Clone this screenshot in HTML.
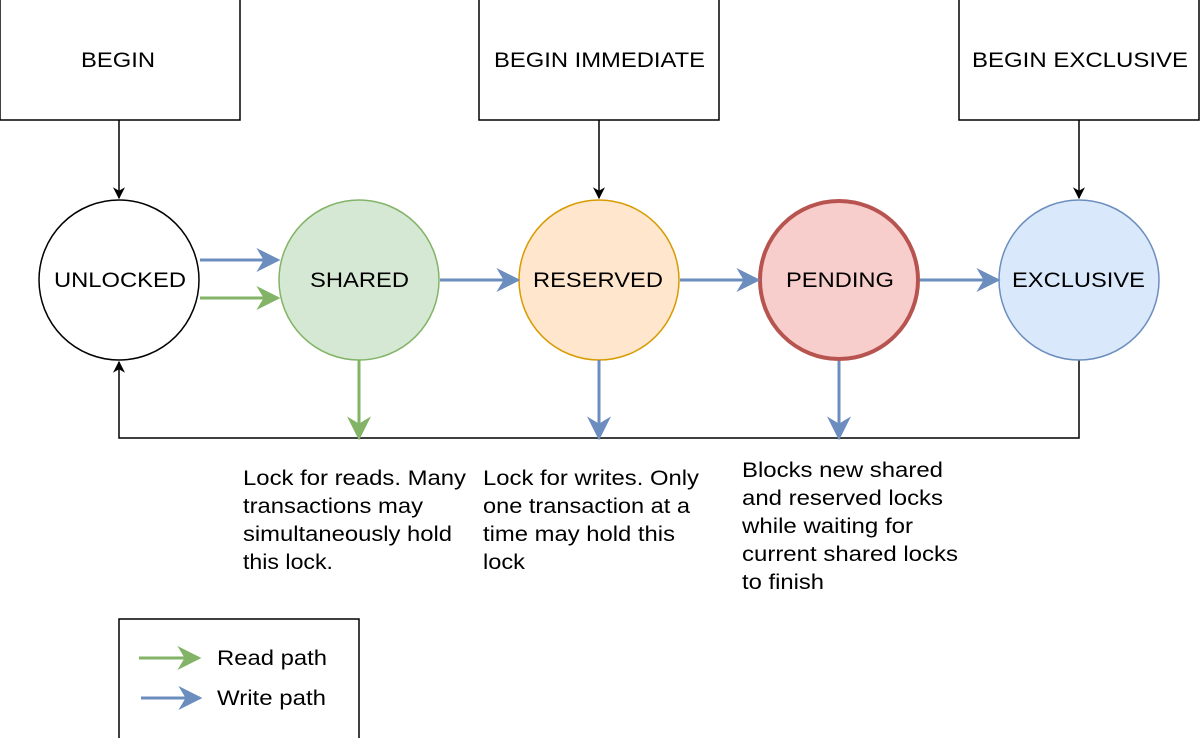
<!DOCTYPE html>
<html><head><meta charset="utf-8"><style>
html,body{margin:0;padding:0;background:#fff;width:1200px;height:738px;overflow:hidden}
svg text{font-family:"Liberation Sans",Arial,sans-serif;font-size:21px;fill:#000}
</style></head><body>
<svg width="1200" height="738" viewBox="0 0 1200 738" xmlns="http://www.w3.org/2000/svg">
<defs>
<marker id="k" viewBox="0 0 10 10" refX="9" refY="5" markerWidth="12" markerHeight="12" markerUnits="userSpaceOnUse" orient="auto"><path d="M0,0 L10,5 L0,10 L3,5 z" fill="#000"/></marker>
<marker id="b" viewBox="0 0 10 10" refX="9" refY="5" markerWidth="24" markerHeight="24" markerUnits="userSpaceOnUse" orient="auto"><path d="M0,0 L10,5 L0,10 L3,5 z" fill="#6c8ebf"/></marker>
<marker id="g" viewBox="0 0 10 10" refX="9" refY="5" markerWidth="24" markerHeight="24" markerUnits="userSpaceOnUse" orient="auto"><path d="M0,0 L10,5 L0,10 L3,5 z" fill="#82b366"/></marker>
</defs>
<g fill="#fff" stroke="#000" stroke-width="1.5">
<rect x="0" y="-2" width="240" height="122"/>
<rect x="479" y="-2" width="240" height="122"/>
<rect x="959" y="-2" width="240" height="122"/>
<rect x="119" y="619" width="240" height="130"/>
</g>
<g lengthAdjust="spacingAndGlyphs">
<text x="81" y="67" textLength="74" lengthAdjust="spacingAndGlyphs">BEGIN</text>
<text x="494" y="67" textLength="211" lengthAdjust="spacingAndGlyphs">BEGIN IMMEDIATE</text>
<text x="972" y="67" textLength="216" lengthAdjust="spacingAndGlyphs">BEGIN EXCLUSIVE</text>
</g>
<g stroke="#000" stroke-width="1.5" fill="none">
<line x1="119" y1="120" x2="119" y2="198" marker-end="url(#k)"/>
<line x1="599" y1="120" x2="599" y2="198" marker-end="url(#k)"/>
<line x1="1079" y1="120" x2="1079" y2="198" marker-end="url(#k)"/>
<polyline points="1079,360 1079,438 119,438 119,362" marker-end="url(#k)"/>
</g>
<circle cx="119" cy="280" r="80" fill="#fff" stroke="#000" stroke-width="1.5"/>
<circle cx="359" cy="280" r="80" fill="#d5e8d4" stroke="#82b366" stroke-width="1.5"/>
<circle cx="599" cy="280" r="80" fill="#ffe6cc" stroke="#d79b00" stroke-width="1.5"/>
<circle cx="839" cy="280" r="79" fill="#f8cecc" stroke="#b85450" stroke-width="4"/>
<circle cx="1079" cy="280" r="80" fill="#dae8fc" stroke="#6c8ebf" stroke-width="1.5"/>
<text x="54" y="287" textLength="132" lengthAdjust="spacingAndGlyphs">UNLOCKED</text>
<text x="310" y="287" textLength="99" lengthAdjust="spacingAndGlyphs">SHARED</text>
<text x="533" y="287" textLength="130" lengthAdjust="spacingAndGlyphs">RESERVED</text>
<text x="786" y="287" textLength="108" lengthAdjust="spacingAndGlyphs">PENDING</text>
<text x="1012" y="287" textLength="133" lengthAdjust="spacingAndGlyphs">EXCLUSIVE</text>
<g stroke-width="3" fill="none">
<line x1="200" y1="260" x2="278" y2="260" stroke="#6c8ebf" marker-end="url(#b)"/>
<line x1="200" y1="298" x2="278" y2="298" stroke="#82b366" marker-end="url(#g)"/>
<line x1="440" y1="280" x2="518" y2="280" stroke="#6c8ebf" marker-end="url(#b)"/>
<line x1="680" y1="280" x2="758" y2="280" stroke="#6c8ebf" marker-end="url(#b)"/>
<line x1="920" y1="280" x2="998" y2="280" stroke="#6c8ebf" marker-end="url(#b)"/>
<line x1="359" y1="360" x2="359" y2="438" stroke="#82b366" marker-end="url(#g)"/>
<line x1="599" y1="360" x2="599" y2="438" stroke="#6c8ebf" marker-end="url(#b)"/>
<line x1="839" y1="361" x2="839" y2="438" stroke="#6c8ebf" marker-end="url(#b)"/>
<line x1="139" y1="658" x2="199" y2="658" stroke="#82b366" marker-end="url(#g)"/>
<line x1="141" y1="698" x2="200" y2="698" stroke="#6c8ebf" marker-end="url(#b)"/>
</g>
<text x="243" y="485" textLength="223" lengthAdjust="spacingAndGlyphs">Lock for reads. Many</text>
<text x="243" y="513" textLength="180" lengthAdjust="spacingAndGlyphs">transactions may</text>
<text x="243" y="541" textLength="209" lengthAdjust="spacingAndGlyphs">simultaneously hold</text>
<text x="243" y="569" textLength="90" lengthAdjust="spacingAndGlyphs">this lock.</text>
<text x="483" y="485" textLength="216" lengthAdjust="spacingAndGlyphs">Lock for writes. Only</text>
<text x="483" y="513" textLength="207" lengthAdjust="spacingAndGlyphs">one transaction at a</text>
<text x="483" y="541" textLength="192" lengthAdjust="spacingAndGlyphs">time may hold this</text>
<text x="483" y="569" textLength="42" lengthAdjust="spacingAndGlyphs">lock</text>
<text x="742" y="477" textLength="201" lengthAdjust="spacingAndGlyphs">Blocks new shared</text>
<text x="742" y="505" textLength="201" lengthAdjust="spacingAndGlyphs">and reserved locks</text>
<text x="742" y="533" textLength="171" lengthAdjust="spacingAndGlyphs">while waiting for</text>
<text x="742" y="561" textLength="216" lengthAdjust="spacingAndGlyphs">current shared locks</text>
<text x="742" y="589" textLength="82" lengthAdjust="spacingAndGlyphs">to finish</text>
<text x="217" y="665" textLength="110" lengthAdjust="spacingAndGlyphs">Read path</text>
<text x="217" y="705" textLength="109" lengthAdjust="spacingAndGlyphs">Write path</text>
</svg>
</body></html>
